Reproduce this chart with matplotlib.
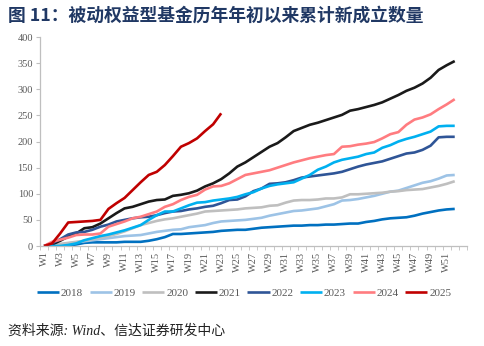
import matplotlib

matplotlib.use("Agg")
import matplotlib.pyplot as plt
import numpy as np

# weekly cumulative count of new passive equity funds, by year
weeks = [f"W{i}" for i in range(1, 53)]
years = ["2018", "2019", "2020", "2021", "2022", "2023", "2024", "2025"]

y2018 = [0, 0, 0, 1, 3, 6, 7, 7, 7, 7, 8, 8, 8, 10, 13, 17, 23, 23, 24, 25, 26, 27, 29, 30, 31, 31,
         33, 35, 36, 37, 38, 39, 39, 40, 40, 41, 41, 42, 43, 43, 46, 48, 51, 53, 54, 55, 58, 62, 65, 68, 70, 71]
y2019 = [0, 1, 3, 5, 7, 9, 11, 13, 15, 17, 19, 20, 21, 24, 27, 29, 31, 32, 36, 38, 40, 44, 47, 48, 49, 50,
         52, 54, 58, 61, 64, 67, 68, 70, 72, 76, 80, 87, 88, 90, 93, 96, 100, 104, 106, 111, 116, 121, 124, 129, 135, 136]
y2020 = [0, 2, 4, 6, 8, 10, 13, 16, 19, 23, 28, 34, 40, 44, 48, 51, 53, 56, 59, 62, 66, 67, 68, 69, 70, 72,
         73, 74, 77, 78, 83, 87, 88, 88, 89, 91, 91, 93, 99, 99, 100, 101, 102, 104, 105, 107, 108, 109, 112, 115, 119, 124]
y2021 = [0, 3, 10, 18, 24, 34, 36, 43, 53, 63, 72, 75, 80, 85, 88, 89, 96, 98, 101, 106, 114, 120, 128, 139, 152, 160,
         170, 180, 190, 197, 208, 220, 226, 232, 236, 241, 246, 251, 259, 262, 266, 270, 275, 282, 289, 297, 303, 311, 322, 337, 346, 354]
y2022 = [0, 5, 13, 22, 26, 27, 31, 37, 41, 47, 50, 53, 55, 56, 59, 63, 66, 67, 70, 72, 75, 77, 82, 88, 89, 95,
         105, 110, 119, 120, 122, 126, 131, 133, 135, 137, 139, 142, 147, 152, 156, 159, 162, 167, 172, 177, 179, 184, 192, 208, 209, 209]
y2023 = [0, 0, 0, 2, 5, 11, 15, 19, 22, 26, 30, 35, 40, 50, 59, 66, 66, 72, 78, 83, 84, 87, 89, 91, 94, 99,
         103, 110, 115, 118, 120, 122, 129, 136, 146, 152, 160, 165, 168, 171, 176, 179, 188, 193, 200, 205, 209, 214, 219, 229, 230, 230]
y2024 = [0, 8, 12, 16, 21, 22, 22, 24, 37, 42, 47, 53, 56, 61, 66, 75, 80, 88, 94, 98, 108, 114, 115, 120, 128, 136,
         139, 142, 145, 150, 155, 160, 164, 168, 171, 174, 176, 190, 191, 194, 196, 199, 206, 214, 218, 232, 242, 246, 252, 262, 271, 281]
y2025 = [0, 5, 24, 45, 46, 47, 48, 50, 71, 82, 92, 107, 122, 136, 142, 155, 172, 190, 197, 206, 220, 233, 254]

series = [y2018, y2019, y2020, y2021, y2022, y2023, y2024, y2025]
colors = ["#0070C0", "#9DC3E6", "#BFBFBF", "#1A1A1A", "#2F5597", "#00B0F0", "#FF7C80", "#C00000"]

SERIF = ["Liberation Serif", "Noto Sans CJK SC"]
CJK = ["Noto Sans CJK SC", "DejaVu Sans"]
AXIS_GREY = "#BFBFBF"
TEXT_GREY = "#595959"

fig = plt.figure(figsize=(4.85, 3.46), dpi=100)
ax = fig.add_axes([0.0825, 0.289, 0.88, 0.604])

for name, vals, c in zip(years, series, colors):
    ax.plot(np.arange(len(vals)), vals, color=c, lw=1.9, label=name,
            solid_joinstyle="round", solid_capstyle="butt")

ax.set_ylim(0, 400)
ax.set_yticks(np.arange(0, 401, 50))
ax.set_xlim(-0.5, 52.5)
ax.set_xticks(np.arange(0, 52, 2))
ax.set_xticklabels(weeks[::2], rotation=90)
ax.set_xticks(np.arange(-0.5, 53, 1), minor=True)

for s in ("top", "right"):
    ax.spines[s].set_visible(False)
for s in ("left", "bottom"):
    ax.spines[s].set_color(AXIS_GREY)
    ax.spines[s].set_linewidth(0.9)
ax.tick_params(axis="y", length=3, color=AXIS_GREY, labelcolor=TEXT_GREY, labelsize=7.5, pad=2)
ax.tick_params(axis="x", which="major", length=0, labelcolor=TEXT_GREY, labelsize=7.5, pad=4)
ax.tick_params(axis="x", which="minor", length=3, color=AXIS_GREY)
for lab in ax.get_xticklabels() + ax.get_yticklabels():
    lab.set_family(SERIF)

leg = ax.legend(loc="center", bbox_to_anchor=(0.478, -0.225), ncol=8, frameon=False,
                handlelength=2.0, handletextpad=0.15, columnspacing=0.6,
                prop={"family": SERIF, "size": 8})
for t in leg.get_texts():
    t.set_color(TEXT_GREY)

fig.text(0.017, 0.955, "图 11：被动权益型基金历年年初以来累计新成立数量", family=CJK,
         fontsize=12.8, fontweight="bold", color="#203864", va="center", ha="left")
fig.text(0.017, 0.045, "资料来源: Wind、信达证券研发中心", family=SERIF, style="italic",
         fontsize=10, color="#222222", va="center", ha="left")

fig.savefig("out.png", dpi=100)
